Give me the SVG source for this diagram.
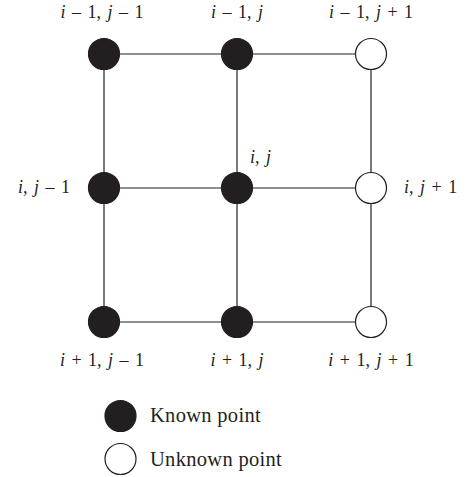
<svg xmlns="http://www.w3.org/2000/svg" width="466" height="477" viewBox="0 0 466 477">
<style>
text{font-family:"Liberation Serif","Times New Roman",serif;font-size:18px;fill:#231f20;word-spacing:2px}
.it{font-style:italic}
.lg{font-size:20.5px;word-spacing:0;letter-spacing:0.3px}
.k{fill:#231f20;stroke:#231f20;stroke-width:1.2}
.u{fill:#fff;stroke:#231f20;stroke-width:1.2}
.e{stroke:#231f20;stroke-width:1.2;fill:none}
</style>
<rect width="466" height="477" fill="#fff"/>
<g id="connectors">
<line class="e" x1="104" y1="54" x2="371" y2="54"/>
<line class="e" x1="104" y1="188" x2="371" y2="188"/>
<line class="e" x1="104" y1="322" x2="371" y2="322"/>
<line class="e" x1="104" y1="54" x2="104" y2="322"/>
<line class="e" x1="237" y1="54" x2="237" y2="322"/>
<line class="e" x1="371" y1="54" x2="371" y2="322"/>
</g>
<g id="n00"><circle class="k" cx="104" cy="54" r="15.5"/><text x="102" y="18" text-anchor="middle"><tspan class="it">i</tspan> – 1, <tspan class="it">j</tspan> – 1</text></g>
<g id="n01"><circle class="k" cx="237" cy="54" r="15.5"/><text x="237" y="18" text-anchor="middle"><tspan class="it">i</tspan> – 1, <tspan class="it">j</tspan></text></g>
<g id="n02"><circle class="u" cx="371" cy="54" r="15.5"/><text x="371" y="18" text-anchor="middle"><tspan class="it">i</tspan> – 1, <tspan class="it">j</tspan> + 1</text></g>
<g id="n10"><circle class="k" cx="104" cy="188" r="15.5"/><text x="70" y="193" text-anchor="end"><tspan class="it">i</tspan>, <tspan class="it">j</tspan> – 1</text></g>
<g id="n11"><circle class="k" cx="237" cy="188" r="15.5"/><text x="250" y="163"><tspan class="it">i</tspan>, <tspan class="it">j</tspan></text></g>
<g id="n12"><circle class="u" cx="371" cy="188" r="15.5"/><text x="404" y="193"><tspan class="it">i</tspan>, <tspan class="it">j</tspan> + 1</text></g>
<g id="n20"><circle class="k" cx="104" cy="322" r="15.5"/><text x="102" y="366" text-anchor="middle"><tspan class="it">i</tspan> + 1, <tspan class="it">j</tspan> – 1</text></g>
<g id="n21"><circle class="k" cx="237" cy="322" r="15.5"/><text x="237" y="366" text-anchor="middle"><tspan class="it">i</tspan> + 1, <tspan class="it">j</tspan></text></g>
<g id="n22"><circle class="u" cx="371" cy="322" r="15.5"/><text x="371" y="366" text-anchor="middle"><tspan class="it">i</tspan> + 1, <tspan class="it">j</tspan> + 1</text></g>
<g id="legend">
<circle class="k" cx="120.5" cy="416" r="15.5"/>
<text class="lg" x="150" y="422">Known point</text>
<circle class="u" cx="120.5" cy="459" r="15.5"/>
<text class="lg" x="150" y="466">Unknown point</text>
</g>
</svg>
